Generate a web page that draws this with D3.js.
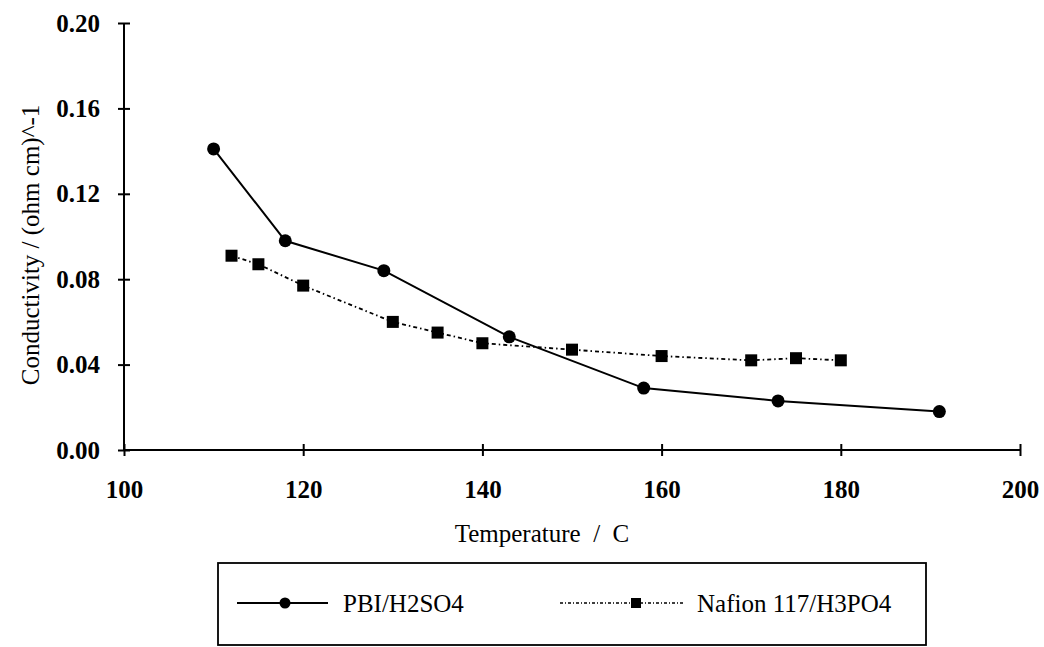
<!DOCTYPE html>
<html>
<head>
<meta charset="utf-8">
<script src="https://cdnjs.cloudflare.com/ajax/libs/d3/7.8.5/d3.min.js"></script>
<style>
  body { margin: 0; background: #fff; }
  svg text { font-family: "Liberation Serif", "DejaVu Serif", serif; fill: #000; white-space: pre; }
  .tick text { font-size: 25px; font-weight: bold; }
  .axis path, .axis line { stroke: #000; stroke-width: 2; }
</style>
</head>
<body>
<div id="chart"></div>
<script>
// data
var pbiTemp = [110, 118, 129, 143, 158, 173, 191];
var pbiCond = [0.141, 0.098, 0.084, 0.053, 0.029, 0.023, 0.018];
var nafTemp = [112, 115, 120, 130, 135, 140, 150, 160, 170, 175, 180];
var nafCond = [0.091, 0.087, 0.077, 0.060, 0.055, 0.050, 0.047, 0.044, 0.042, 0.043, 0.042];
var xTicks = [100, 120, 140, 160, 180, 200];
var yTicks = [0, 0.04, 0.08, 0.12, 0.16, 0.20];
var seriesNames = ["PBI/H2SO4", "Nafion 117/H3PO4"];

var W = 1044, H = 647;
var svg = d3.select("#chart").append("svg")
  .attr("width", W).attr("height", H);

var x = d3.scaleLinear().domain([100, 200]).range([124, 1020]);
var y = d3.scaleLinear().domain([0, 0.2]).range([450, 23]);

// x axis, ticks crossing the line
var xAxis = svg.append("g").attr("class", "axis")
  .attr("transform", "translate(0," + y(0) + ")")
  .call(d3.axisBottom(x).tickValues(xTicks).tickSize(0).tickPadding(30).tickFormat(d3.format("d")));
xAxis.attr("font-family", null).attr("font-size", null);
xAxis.select(".domain").attr("d", "M" + x(100) + ",0H" + x(200));
xAxis.selectAll(".tick").append("line").attr("y1", -6).attr("y2", 6);

// y axis
var yAxis = svg.append("g").attr("class", "axis")
  .attr("transform", "translate(" + x(100) + ",0)")
  .call(d3.axisLeft(y).tickValues(yTicks).tickSize(0).tickPadding(24).tickFormat(d3.format(".2f")));
yAxis.attr("font-family", null).attr("font-size", null);
yAxis.select(".domain").attr("d", "M0," + y(0) + "V" + y(0.2));
yAxis.selectAll(".tick").append("line").attr("x1", -6).attr("x2", 6);

// axis titles
svg.append("text")
  .attr("x", 542).attr("y", 542)
  .attr("text-anchor", "middle")
  .style("font-size", "25px")
  .text("Temperature  /  C");

svg.append("text")
  .attr("transform", "translate(39,245) rotate(-90)")
  .attr("text-anchor", "middle")
  .style("font-size", "25px")
  .text("Conductivity / (ohm cm)^-1");

var pbi = pbiTemp.map(function(t, i) { return [t, pbiCond[i]]; });
var naf = nafTemp.map(function(t, i) { return [t, nafCond[i]]; });

var line = d3.line()
  .x(function(d) { return x(d[0]); })
  .y(function(d) { return y(d[1]); });

svg.append("path").datum(naf)
  .attr("d", line)
  .attr("fill", "none").attr("stroke", "#000").attr("stroke-width", 1.8)
  .attr("stroke-dasharray", "4,3,1.5,3");

svg.append("path").datum(pbi)
  .attr("d", line)
  .attr("fill", "none").attr("stroke", "#000").attr("stroke-width", 2);

svg.selectAll(".naf").data(naf).enter().append("rect")
  .attr("class", "naf")
  .attr("x", function(d) { return x(d[0]) - 6; })
  .attr("y", function(d) { return y(d[1]) - 6; })
  .attr("width", 12).attr("height", 12)
  .attr("fill", "#000");

svg.selectAll(".pbi").data(pbi).enter().append("circle")
  .attr("class", "pbi")
  .attr("cx", function(d) { return x(d[0]); })
  .attr("cy", function(d) { return y(d[1]); })
  .attr("r", 6.5)
  .attr("fill", "#000");

// legend
var lg = svg.append("g");
lg.append("rect")
  .attr("x", 218).attr("y", 563).attr("width", 708).attr("height", 82)
  .attr("fill", "none").attr("stroke", "#000").attr("stroke-width", 1.8);

lg.append("line").attr("x1", 237).attr("x2", 328).attr("y1", 603).attr("y2", 603)
  .attr("stroke", "#000").attr("stroke-width", 1.8);
lg.append("circle").attr("cx", 285).attr("cy", 603).attr("r", 5.5).attr("fill", "#000");
lg.append("text").attr("x", 343).attr("y", 612)
  .style("font-size", "25px").text(seriesNames[0]);

lg.append("line").attr("x1", 560).attr("x2", 685).attr("y1", 603).attr("y2", 603)
  .attr("stroke", "#000").attr("stroke-width", 1.3).attr("stroke-dasharray", "3,2,1,2");
lg.append("rect").attr("x", 631).attr("y", 598).attr("width", 10).attr("height", 10).attr("fill", "#000");
lg.append("text").attr("x", 697).attr("y", 612)
  .style("font-size", "25px").text(seriesNames[1]);
</script>
</body>
</html>
